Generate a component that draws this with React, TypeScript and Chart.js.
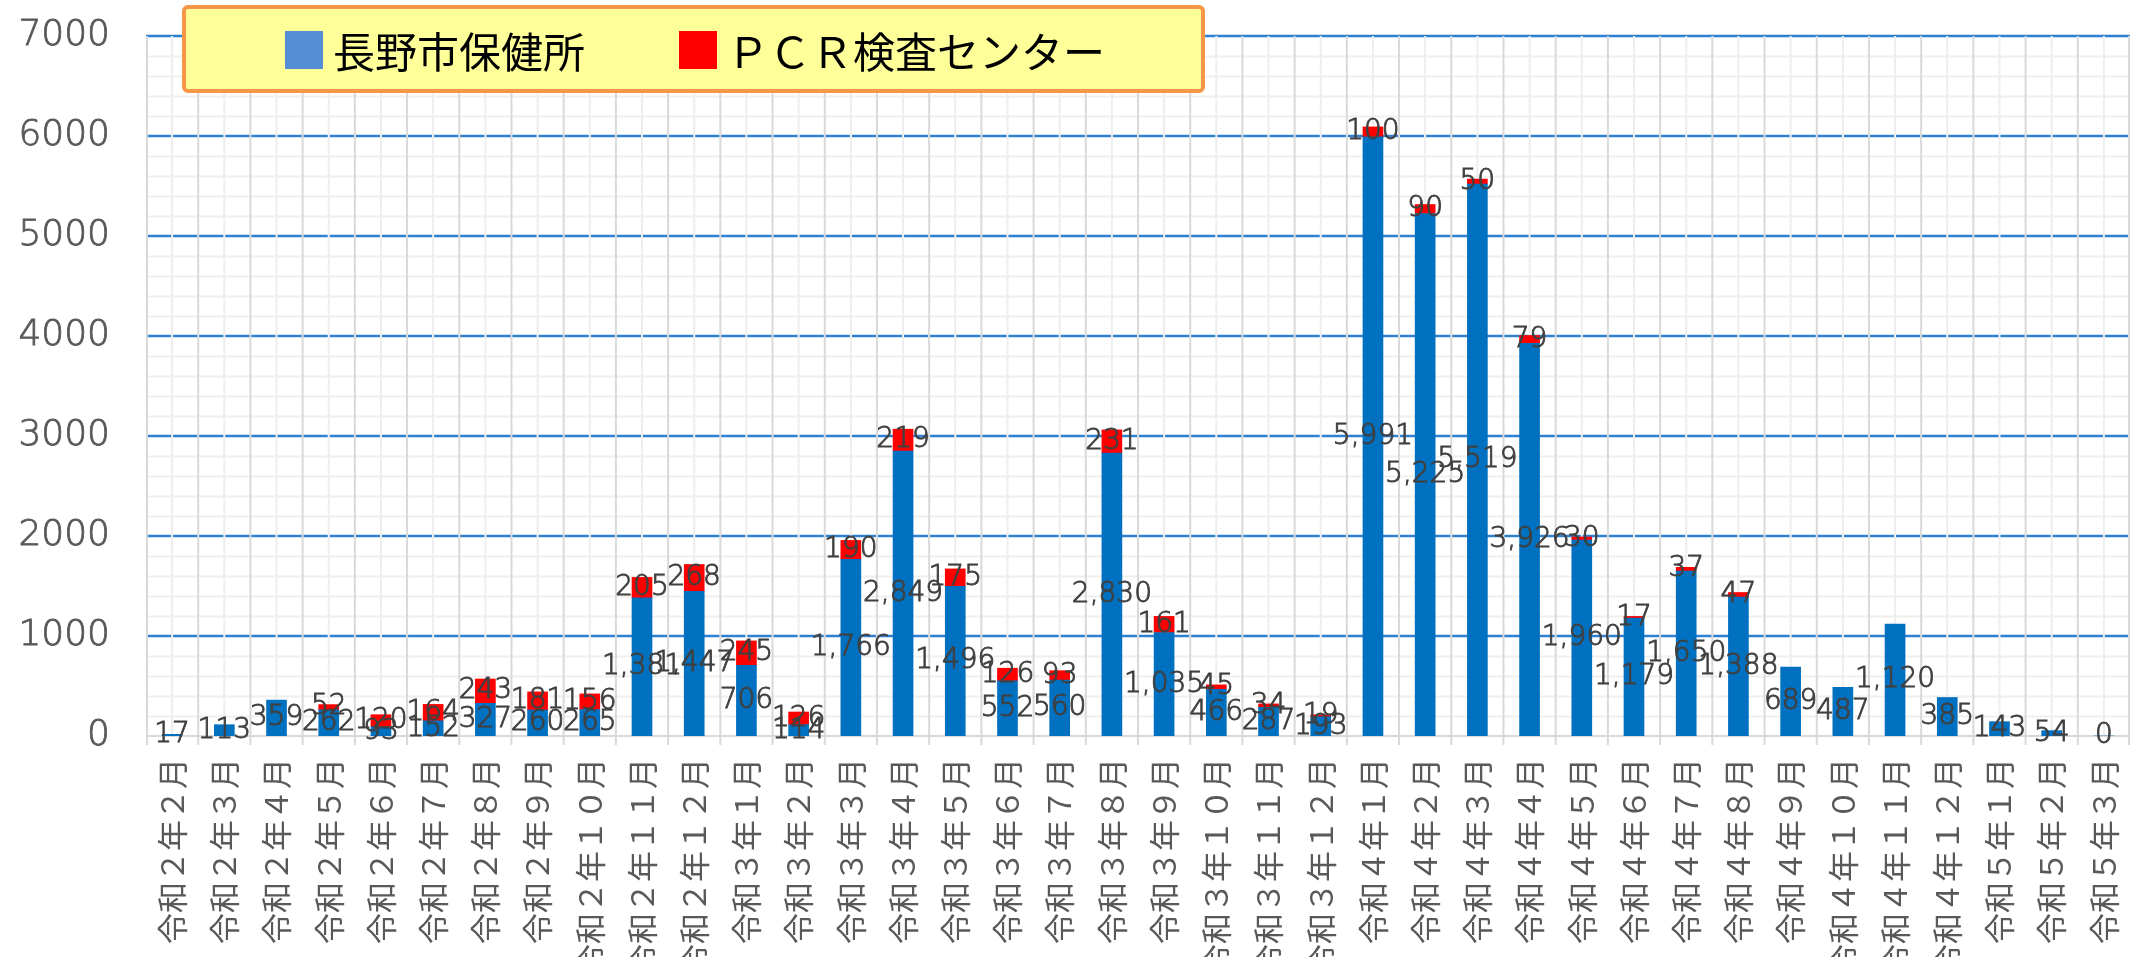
import React, { useEffect, useRef } from 'react';
import { Chart, registerables } from 'chart.js';

Chart.register(...registerables);

const categories = [
  '令和２年２月', '令和２年３月', '令和２年４月', '令和２年５月', '令和２年６月', '令和２年７月',
  '令和２年８月', '令和２年９月', '令和２年１０月', '令和２年１１月', '令和２年１２月',
  '令和３年１月', '令和３年２月', '令和３年３月', '令和３年４月', '令和３年５月', '令和３年６月',
  '令和３年７月', '令和３年８月', '令和３年９月', '令和３年１０月', '令和３年１１月', '令和３年１２月',
  '令和４年１月', '令和４年２月', '令和４年３月', '令和４年４月', '令和４年５月', '令和４年６月',
  '令和４年７月', '令和４年８月', '令和４年９月', '令和４年１０月', '令和４年１１月', '令和４年１２月',
  '令和５年１月', '令和５年２月', '令和５年３月',
];

const hokenjo = [
  17, 113, 359, 262, 93, 152, 327, 260, 265, 1381, 1447,
  706, 114, 1766, 2849, 1496, 552, 560, 2830, 1035, 466, 287, 193,
  5991, 5225, 5519, 3926, 1960, 1179, 1650, 1388, 689, 487, 1120, 385,
  143, 54, 0,
];

const pcrCenter = [
  null, null, null, 52, 120, 164, 243, 181, 156, 205, 268,
  245, 126, 190, 219, 175, 126, 93, 231, 161, 45, 34, 19,
  100, 90, 50, 79, 30, 17, 37, 47, null, null, null, null,
  null, null, null,
];

const seriesNames = ['長野市保健所', 'ＰＣＲ検査センター'];
const yTickValues = [0, 1000, 2000, 3000, 4000, 5000, 6000, 7000];

const BAR_COLORS = ['#0070C0', '#FF0000'];
const LEGEND_COLORS = ['#558ED5', '#FF0000'];

const gridPlugin = {
  id: 'customGrid',
  beforeDraw(chart: any) {
    const { ctx, chartArea } = chart;
    const x = chart.scales.x;
    const y = chart.scales.y;
    const { left, right, top, bottom } = chartArea;
    ctx.save();
    // minor horizontal lines
    ctx.strokeStyle = '#F0F0EB';
    ctx.lineWidth = 2;
    const ymax = yTickValues[yTickValues.length - 1];
    for (let v = 200; v < ymax; v += 200) {
      if (v % 1000 === 0) continue;
      const py = Math.round(y.getPixelForValue(v)) + 0.5;
      ctx.beginPath();
      ctx.moveTo(left, py);
      ctx.lineTo(right, py);
      ctx.stroke();
    }
    // major horizontal lines
    ctx.strokeStyle = '#2E80D2';
    ctx.lineWidth = 2.5;
    for (const v of yTickValues) {
      if (v === 0) continue;
      const py = y.getPixelForValue(v);
      ctx.beginPath();
      ctx.moveTo(left, py);
      ctx.lineTo(right, py);
      ctx.stroke();
    }
    // vertical center lines
    ctx.strokeStyle = '#EEEEEE';
    ctx.lineWidth = 2;
    for (let i = 0; i < categories.length; i++) {
      const px = x.getPixelForValue(i);
      ctx.beginPath();
      ctx.moveTo(px, top);
      ctx.lineTo(px, bottom);
      ctx.stroke();
    }
    // vertical boundary lines + tick marks
    ctx.strokeStyle = '#D9D9D9';
    ctx.lineWidth = 2;
    for (let i = 0; i <= categories.length; i++) {
      let px;
      if (i === 0) px = left + 1;
      else if (i === categories.length) px = right - 1;
      else px = (x.getPixelForValue(i - 1) + x.getPixelForValue(i)) / 2;
      ctx.beginPath();
      ctx.moveTo(px, top);
      ctx.lineTo(px, bottom + 9);
      ctx.stroke();
    }
    // axis line
    ctx.beginPath();
    ctx.moveTo(left, bottom);
    ctx.lineTo(right, bottom);
    ctx.stroke();
    ctx.restore();
  },
};

const labelPlugin = {
  id: 'barLabels',
  afterDatasetsDraw(chart: any) {
    const { ctx } = chart;
    ctx.save();
    ctx.font = '200 28px "DejaVu Sans"';
    ctx.fillStyle = '#404040';
    ctx.strokeStyle = '#404040';
    ctx.lineWidth = 0.9;
    ctx.textAlign = 'center';
    ctx.textBaseline = 'middle';
    chart.data.datasets.forEach((ds: any, di: number) => {
      const meta = chart.getDatasetMeta(di);
      meta.data.forEach((el: any, i: number) => {
        const v = ds.data[i];
        if (v === null || v === undefined) return;
        const cy = (el.y + el.base) / 2;
        const txt = Number(v).toLocaleString('en-US');
        ctx.fillText(txt, el.x, cy);
        ctx.strokeText(txt, el.x, cy);
      });
    });
    ctx.restore();
  },
};

const legendPlugin = {
  id: 'boxLegend',
  afterDraw(chart: any) {
    const { ctx } = chart;
    ctx.save();
    const bx = 184, by = 7, bw = 1019, bh = 84;
    ctx.fillStyle = '#FFFF99';
    ctx.strokeStyle = '#F79646';
    ctx.lineWidth = 4;
    ctx.beginPath();
    if ((ctx as any).roundRect) (ctx as any).roundRect(bx, by, bw, bh, 4);
    else ctx.rect(bx, by, bw, bh);
    ctx.fill();
    ctx.stroke();
    const itemX = [285, 679];
    ctx.font = '42px "Noto Sans CJK JP"';
    ctx.textBaseline = 'middle';
    ctx.textAlign = 'left';
    seriesNames.forEach((name, i) => {
      ctx.fillStyle = LEGEND_COLORS[i];
      ctx.fillRect(itemX[i], 31, 38, 38);
      ctx.fillStyle = '#000000';
      ctx.fillText(name, itemX[i] + 48, 52);
    });
    ctx.restore();
  },
};

export default function App() {
  const ref = useRef<HTMLCanvasElement>(null);

  useEffect(() => {
    document.body.style.margin = '0';
    const canvas = ref.current;
    if (!canvas) return;
    const chart = new Chart(canvas, {
      type: 'bar',
      data: {
        labels: categories,
        datasets: [
          {
            label: seriesNames[0],
            data: hokenjo,
            backgroundColor: BAR_COLORS[0],
            barThickness: 20,
          },
          {
            label: seriesNames[1],
            data: pcrCenter as any,
            backgroundColor: BAR_COLORS[1],
            barThickness: 20,
          },
        ],
      },
      options: {
        responsive: false,
        animation: false,
        devicePixelRatio: 1,
        layout: { padding: { top: 36, right: 2, left: 0, bottom: 0 } },
        plugins: {
          legend: { display: false },
          tooltip: { enabled: false },
        },
        scales: {
          x: {
            stacked: true,
            offset: true,
            grid: { display: false, drawTicks: false },
            border: { display: false },
            ticks: {
              autoSkip: false,
              maxRotation: 90,
              minRotation: 90,
              padding: 22,
              color: '#595959',
              font: { family: '"Noto Sans CJK JP"', size: 31 },
            },
            afterFit(scale: any) {
              scale.height = 221;
              scale.paddingLeft = 0;
              scale.paddingRight = 0;
            },
          },
          y: {
            stacked: true,
            min: 0,
            max: 7000,
            grid: { display: false, drawTicks: false },
            border: { display: false },
            ticks: {
              stepSize: 1000,
              padding: 36,
              color: '#595959',
              textStrokeColor: '#595959',
              textStrokeWidth: 0.8,
              font: { family: '"DejaVu Sans"', size: 36, weight: '200' },
              callback: (v: any) => String(v),
            },
            afterFit(scale: any) {
              scale.width = 146;
              scale.paddingTop = 0;
              scale.paddingBottom = 0;
            },
          },
        },
      },
      plugins: [gridPlugin, labelPlugin, legendPlugin],
    });
    return () => chart.destroy();
  }, []);

  return (
    <div style={{ width: 2132, height: 957, overflow: 'hidden', background: '#FFFFFF' }}>
      <canvas ref={ref} width={2132} height={957} style={{ display: 'block' }} />
    </div>
  );
}
